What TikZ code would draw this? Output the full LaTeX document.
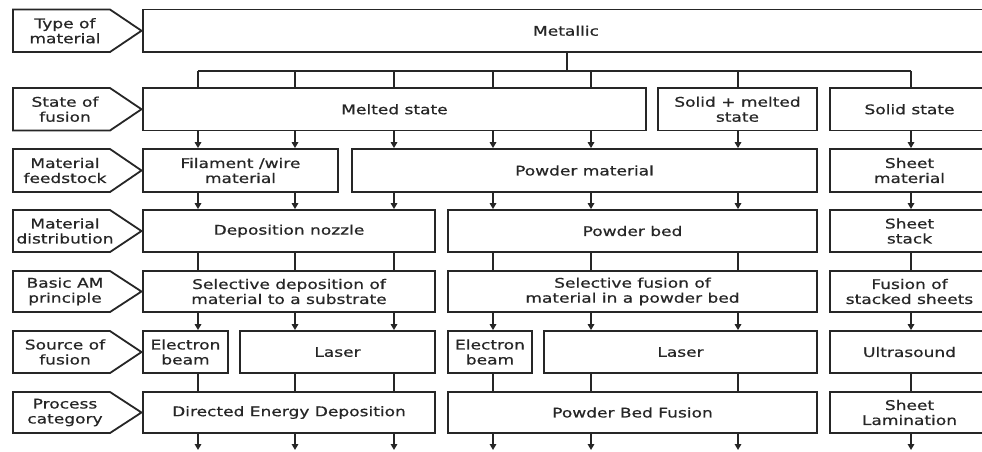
\documentclass[tikz,border=0pt]{standalone}
\usepackage{fontspec}
\setmainfont{DejaVu Sans}[FakeStretch=1.28,FakeBold=0.6]
\usetikzlibrary{arrows.meta}
\definecolor{ink}{HTML}{262626}
\newcommand\mybox[6]{\node[box, minimum width={#3-#2}, minimum height={#5-#4}] (#1) at ({(#2+#3)/2},{(#4+#5)/2}) {#6};}
\newcommand\mylab[4]{%
  \draw[labshape] (13,#2) -- (110,#2) -- (141.5,{(#2+#3)/2}) -- (110,#3) -- (13,#3) -- cycle;
  \node[lab] (#1) at (65,{(#2+#3)/2}) {#4};}
\begin{document}
\begin{tikzpicture}[x=1pt,y=-1pt,
  txt/.style={font=\fontsize{13.3}{15}\selectfont, text=ink, align=center},
  box/.style={txt, draw=ink, line width=1.8pt, inner sep=0pt},
  lab/.style={txt, inner sep=0pt},
  labshape/.style={draw=ink, line width=1.8pt, line join=miter},
  conn/.style={draw=ink, line width=1.6pt},
  arr/.style={conn, -{Triangle[length=6pt,width=6.5pt]}}]
\useasboundingbox (0,0) rectangle (982,451);
\clip (0,0) rectangle (982,451);
\fill[white] (0,0) rectangle (982,451);
% left labels
\mylab{l1}{9.5}{52}{Type of\\material}
\mylab{l2}{88}{130.5}{State of\\fusion}
\mylab{l3}{149}{192}{Material\\feedstock}
\mylab{l4}{210}{252}{Material\\distribution}
\mylab{l5}{271}{312}{Basic AM\\principle}
\mylab{l6}{331}{373}{Source of\\fusion}
\mylab{l7}{392}{433}{Process\\category}
% row 1
\mybox{metal}{143}{989}{9.5}{52}{Metallic}
% row 2
\mybox{melted}{143}{646}{88}{130.5}{Melted state}
\mybox{smelt}{658}{817}{88}{130.5}{Solid + melted\\state}
\mybox{solid}{830}{989}{88}{130.5}{Solid state}
% row 3
\mybox{filament}{143}{338}{149}{192}{Filament /wire\\material}
\mybox{powder}{352}{817}{149}{192}{Powder material}
\mybox{sheet}{830}{989}{149}{192}{Sheet\\material}
% row 4
\mybox{nozzle}{143}{435}{210}{252}{Deposition nozzle}
\mybox{bed}{448}{817}{210}{252}{Powder bed}
\mybox{stack}{830}{989}{210}{252}{Sheet\\stack}
% row 5
\mybox{sdep}{143}{435}{271}{312}{Selective deposition of\\material to a substrate}
\mybox{sfus}{448}{817}{271}{312}{Selective fusion of\\material in a powder bed}
\mybox{fss}{830}{989}{271}{312}{Fusion of\\stacked sheets}
% row 6
\mybox{ebA}{143}{228}{331}{373}{Electron\\beam}
\mybox{laserA}{240}{435}{331}{373}{Laser}
\mybox{ebB}{448}{532}{331}{373}{Electron\\beam}
\mybox{laserB}{544}{817}{331}{373}{Laser}
\mybox{ultra}{830}{989}{331}{373}{Ultrasound}
% row 7
\mybox{ded}{143}{435}{392}{433}{Directed Energy Deposition}
\mybox{pbf}{448}{817}{392}{433}{Powder Bed Fusion}
\mybox{sl}{830}{989}{392}{433}{Sheet\\Lamination}
% column and helper coordinates
\foreach \n/\x in {1/198,2/295,3/394,4/493,5/591,6/738,7/911}
  \coordinate (c\n) at (\x,0);
\coordinate (stem) at (567,0);
\coordinate (bus) at (0,71);
\coordinate (bot) at (0,450);
% bus from Metallic
\draw[conn] (metal.south -| stem) -- (bus -| stem);
\draw[conn] (bus -| c1) -- (bus -| c7);
\foreach \c/\b in {1/melted,2/melted,3/melted,4/melted,5/melted,6/smelt,7/solid}
  \draw[conn] (bus -| c\c) -- (\b.north -| c\c);
% row 2 -> row 3
\foreach \c/\a/\b in {1/melted/filament,2/melted/filament,3/melted/powder,4/melted/powder,5/melted/powder,6/smelt/powder,7/solid/sheet}
  \draw[arr] (\a.south -| c\c) -- (\b.north -| c\c);
% row 3 -> row 4
\foreach \c/\a/\b in {1/filament/nozzle,2/filament/nozzle,3/powder/nozzle,4/powder/bed,5/powder/bed,6/powder/bed,7/sheet/stack}
  \draw[arr] (\a.south -| c\c) -- (\b.north -| c\c);
% row 4 -> row 5
\foreach \c/\a/\b in {1/nozzle/sdep,2/nozzle/sdep,3/nozzle/sdep,4/bed/sfus,5/bed/sfus,6/bed/sfus,7/stack/fss}
  \draw[conn] (\a.south -| c\c) -- (\b.north -| c\c);
% row 5 -> row 6
\foreach \c/\a/\b in {1/sdep/ebA,2/sdep/laserA,3/sdep/laserA,4/sfus/ebB,5/sfus/laserB,6/sfus/laserB,7/fss/ultra}
  \draw[arr] (\a.south -| c\c) -- (\b.north -| c\c);
% row 6 -> row 7
\foreach \c/\a/\b in {1/ebA/ded,2/laserA/ded,3/laserA/ded,4/ebB/pbf,5/laserB/pbf,6/laserB/pbf,7/ultra/sl}
  \draw[conn] (\a.south -| c\c) -- (\b.north -| c\c);
% row 7 -> out
\foreach \c/\a in {1/ded,2/ded,3/ded,4/pbf,5/pbf,6/pbf,7/sl}
  \draw[arr] (\a.south -| c\c) -- (bot -| c\c);
\end{tikzpicture}
\end{document}
